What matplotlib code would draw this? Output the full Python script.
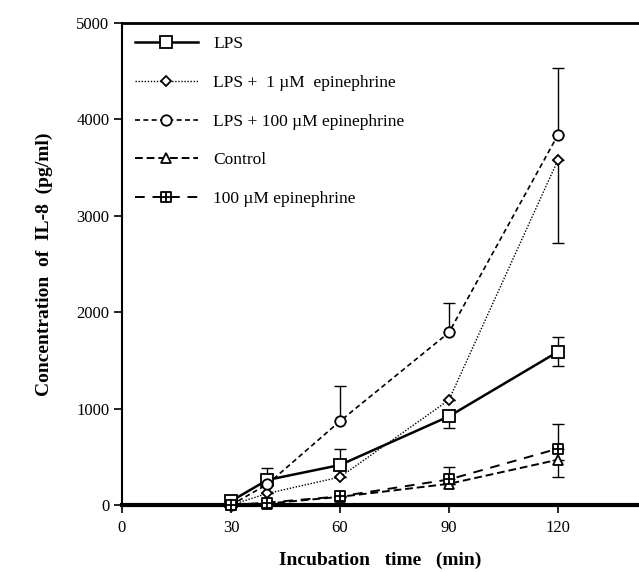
import matplotlib
matplotlib.use("Agg")
import matplotlib.pyplot as plt
from matplotlib.path import Path
import numpy as np

plt.rcParams['font.family'] = ['Liberation Serif', 'DejaVu Serif']

time = [30, 40, 60, 90, 120]

lps = [40, 260, 415, 920, 1590]
lps_lo = [0, 0, 0, 120, 150]
lps_hi = [0, 120, 165, 0, 150]

lps_epi1 = [0, 120, 290, 1090, 3580]
lps_epi1_lo = [0, 0, 0, 0, 860]
lps_epi1_hi = [0, 0, 0, 0, 0]

lps_epi100 = [0, 215, 870, 1790, 3840]
lps_epi100_lo = [0, 0, 0, 0, 0]
lps_epi100_hi = [0, 0, 360, 310, 690]

control = [0, 15, 85, 220, 470]
control_lo = [0, 0, 0, 0, 180]
control_hi = [0, 0, 0, 0, 0]

epi100 = [0, 25, 90, 265, 585]
epi100_lo = [0, 0, 0, 0, 0]
epi100_hi = [0, 0, 0, 125, 255]

labels = ["LPS", "LPS +  1 \u00b5M  epinephrine", "LPS + 100 \u00b5M epinephrine",
          "Control", "100 \u00b5M epinephrine"]
xticks = [0, 30, 60, 90, 120]
yticks = [0, 1000, 2000, 3000, 4000, 5000]

# square with a plus inside
verts = [(-1, -1), (1, -1), (1, 1), (-1, 1), (-1, -1),
         (-1, 0), (1, 0), (0, -1), (0, 1)]
codes = [Path.MOVETO, Path.LINETO, Path.LINETO, Path.LINETO, Path.CLOSEPOLY,
         Path.MOVETO, Path.LINETO, Path.MOVETO, Path.LINETO]
sqplus = Path(verts, codes)

fig = plt.figure(figsize=(6.39, 5.72), dpi=100)
ax = fig.add_axes([0.1909, 0.1171, 0.8091, 0.8427])

series = [
    (lps, lps_lo, lps_hi, 's', 8, dict(linestyle='-', linewidth=1.8)),
    (lps_epi1, lps_epi1_lo, lps_epi1_hi, 'D', 5.5, dict(linestyle=(0, (1, 1.2)), linewidth=1.0)),
    (lps_epi100, lps_epi100_lo, lps_epi100_hi, 'o', 7.5, dict(linestyle=(0, (3, 2)), linewidth=1.2)),
    (control, control_lo, control_hi, '^', 7, dict(linestyle=(0, (4, 2)), linewidth=1.4)),
    (epi100, epi100_lo, epi100_hi, sqplus, 6.5, dict(linestyle=(0, (5, 4)), linewidth=1.4)),
]

handles = []
for (vals, lo, hi, mk, ms, st), lab in zip(series, labels):
    yerr = np.array([lo, hi])
    ax.errorbar(time, vals, yerr=yerr, fmt='none', ecolor='black',
                elinewidth=1.0, capsize=4, capthick=1.0, clip_on=False, zorder=2)
    ln, = ax.plot(time, vals, color='black', marker=mk, markersize=ms,
                  markerfacecolor='white', markeredgecolor='black',
                  markeredgewidth=1.3, clip_on=False, zorder=3, label=lab, **st)
    handles.append(ln)

ax.set_xlim(0, 142.3)
ax.set_ylim(0, 5000)
ax.set_xticks(xticks)
ax.set_yticks(yticks)
ax.tick_params(axis='both', direction='out', length=6, width=1.2,
               labelsize=12, colors='black')
ax.tick_params(axis='x', pad=5)
ax.tick_params(axis='y', pad=3)

ax.spines['right'].set_visible(False)
ax.spines['bottom'].set_linewidth(3.0)
ax.spines['top'].set_linewidth(2.0)
ax.spines['left'].set_linewidth(1.5)

ax.set_xlabel("Incubation   time   (min)", fontsize=14, fontweight='bold', labelpad=11)
ax.set_ylabel("Concentration  of  IL-8  (pg/ml)", fontsize=14, fontweight='bold', labelpad=17)

leg = ax.legend(handles=handles, loc='upper left', bbox_to_anchor=(0.0, 1.0),
                frameon=False, fontsize=12.5, handlelength=3.6, handletextpad=0.9,
                labelspacing=1.3, borderaxespad=0.4, borderpad=0.35)

fig.savefig("out.png", dpi=100)
